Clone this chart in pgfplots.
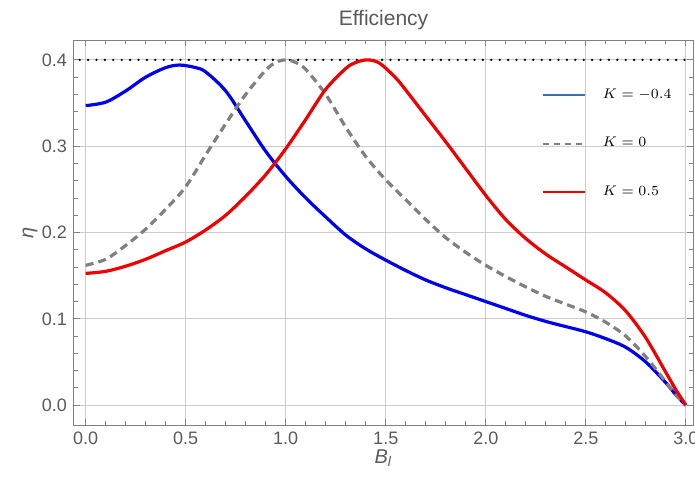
\documentclass[border=0pt]{standalone}
\usepackage{pgfplots}
\pgfplotsset{compat=1.18}
\usepackage{fontspec}
\setmainfont{Liberation Sans}
\definecolor{txtgray}{RGB}{90,90,90}
\definecolor{framegray}{RGB}{130,130,130}
\definecolor{legblue}{RGB}{60,110,180}
\definecolor{curveblue}{RGB}{0,0,240}
\definecolor{curvered}{RGB}{240,0,0}
\definecolor{curvegray}{RGB}{128,128,128}
\begin{document}
\begin{tikzpicture}
\begin{axis}[
  scale only axis, width=309.5pt, height=192.5pt,
  xmin=-0.0585, xmax=3.036, ymin=-0.023, ymax=0.423,
  xtick={0,0.5,1,1.5,2,2.5,3}, ytick={0,0.1,0.2,0.3,0.4},
  minor x tick num=4, minor y tick num=4,
  tick pos=both, tick align=inside,
  major tick length=3pt, minor tick length=1.8pt,
  grid=major, grid style={gray!40, line width=0.4pt},
  axis line style={framegray, line width=0.5pt},
  every tick/.append style={framegray, line width=0.4pt},
  every minor tick/.append style={framegray, line width=0.4pt},
  /pgf/number format/assume math mode=true,
  ticklabel style={font=\fontsize{9}{10}\selectfont, text=txtgray},
  xticklabel style={/pgf/number format/.cd, fixed, fixed zerofill, precision=1},
  yticklabel style={/pgf/number format/.cd, fixed, fixed zerofill, precision=1},
  title={Efficiency},
  every axis title/.style={font=\fontsize{10.5}{12}\selectfont, text=txtgray, at={(axis description cs:0.5,1)}, anchor=center, yshift=10pt},
  xlabel={\textit{B}\textsubscript{\textit{l}}},
  every axis x label/.style={font=\fontsize{10}{12}\selectfont, text=txtgray, at={(axis description cs:0.5,-0.0857)}, anchor=center},
  ylabel={\textit{η}},
  every axis y label/.style={font=\fontsize{10}{12}\selectfont, text=txtgray, at={(axis description cs:-0.071,0.5)}, anchor=center, rotate=90},
  legend image code/.code={\draw[#1] (0pt,0pt) -- (21pt,0pt);},
  legend cell align=left,
  legend style={draw=none, fill=none, font=\fontsize{7.5}{8}\selectfont, at={(axis cs:2.277,0.303)}, anchor=west, row sep=18pt, inner sep=0pt, nodes={inner sep=0pt},
    /tikz/every odd column/.append style={column sep=8.5pt}},
]
\addplot[black, line width=1.3pt, dash pattern=on 0pt off 4.2pt, line cap=round, forget plot] coordinates {(-0.03,0.4) (3.03,0.4)};

\addplot[curveblue, line width=1.6pt, smooth, forget plot] coordinates {
(0,0.347) (0.1,0.351) (0.2,0.364) (0.3,0.380) (0.4,0.391) (0.47,0.394) (0.55,0.391)
(0.6,0.386) (0.7,0.364) (0.8,0.329) (0.9,0.294) (1.0,0.265) (1.1,0.240) (1.2,0.218)
(1.3,0.197) (1.4,0.181) (1.5,0.168) (1.6,0.156) (1.7,0.145) (1.8,0.136) (1.9,0.128)
(2.0,0.120) (2.1,0.112) (2.2,0.104) (2.3,0.097) (2.4,0.091) (2.5,0.085) (2.6,0.077)
(2.7,0.067) (2.8,0.050) (2.9,0.026) (2.95,0.012) (3.0,0)};

\addplot[curvegray, line width=1.6pt, dash pattern=on 4pt off 2.5pt, smooth, forget plot] coordinates {
(0,0.162) (0.1,0.169) (0.2,0.185) (0.3,0.204) (0.4,0.227) (0.5,0.253) (0.6,0.290)
(0.7,0.326) (0.8,0.360) (0.9,0.388) (0.95,0.397) (1.0,0.400) (1.05,0.397) (1.1,0.389)
(1.2,0.360) (1.3,0.322) (1.4,0.288) (1.5,0.261) (1.6,0.238) (1.7,0.215) (1.8,0.194)
(1.9,0.177) (2.0,0.162) (2.1,0.149) (2.2,0.137) (2.3,0.126) (2.4,0.117) (2.5,0.108)
(2.6,0.096) (2.7,0.080) (2.8,0.056) (2.9,0.027) (2.95,0.012) (3.0,0)};

\addplot[curvered, line width=1.6pt, smooth, forget plot] coordinates {
(0,0.1526) (0.1,0.155) (0.2,0.161) (0.3,0.169) (0.4,0.179) (0.5,0.189) (0.6,0.203)
(0.7,0.220) (0.8,0.242) (0.9,0.267) (1.0,0.297) (1.1,0.331) (1.2,0.366) (1.3,0.390)
(1.35,0.397) (1.41,0.400) (1.47,0.396) (1.55,0.379) (1.6,0.365) (1.7,0.335) (1.8,0.305)
(1.9,0.274) (2.0,0.243) (2.1,0.215) (2.2,0.193) (2.3,0.175) (2.4,0.160) (2.5,0.145)
(2.6,0.130) (2.7,0.109) (2.8,0.078) (2.9,0.038) (2.95,0.018) (3.0,0)};

\addlegendimage{legblue, line width=1pt}
\addlegendentry{$K=-0.4$}
\addlegendimage{curvegray, line width=1pt, dash pattern=on 3pt off 2.5pt}
\addlegendentry{$K=0$}
\addlegendimage{curvered, line width=1pt}
\addlegendentry{$K=0.5$}
\end{axis}
\pgfresetboundingbox
\path[use as bounding box] ([shift={(-37pt,-29pt)}]current axis.south west) rectangle ++(347.5pt,241.5pt);
\end{tikzpicture}
\end{document}
